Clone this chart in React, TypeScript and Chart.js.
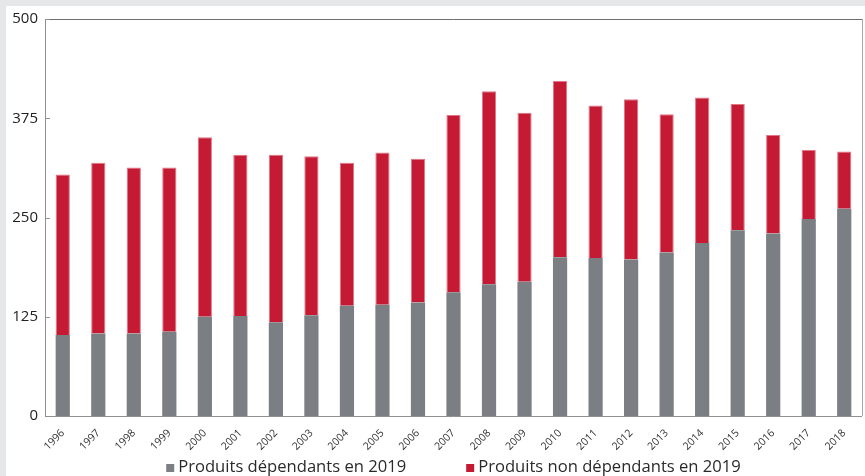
import React, { useEffect, useRef } from "react";
import { Chart, registerables } from "chart.js";

Chart.register(...registerables);

const years = [
  "1996", "1997", "1998", "1999", "2000", "2001", "2002", "2003", "2004", "2005", "2006", "2007",
  "2008", "2009", "2010", "2011", "2012", "2013", "2014", "2015", "2016", "2017", "2018",
];
const dependants = [102, 104, 104, 106, 125, 126, 118, 127, 139, 140, 143, 156, 166, 169, 200, 199, 197, 206, 218, 234, 230, 248, 261];
const nonDependants = [202, 215, 209, 207, 226, 203, 211, 200, 180, 192, 181, 223, 243, 213, 222, 192, 202, 174, 183, 159, 124, 87, 72];
const yTicks = [0, 125, 250, 375, 500];
const seriesLabels = ["Produits dépendants en 2019", "Produits non dépendants en 2019"];

const GRAY = "#7b7e82";
const RED = "#c41a33";
const FONT = "'Open Sans', 'Noto Sans', sans-serif";

const framePlugin = {
  id: "frame",
  beforeDraw(chart: any) {
    const { ctx, width, height } = chart;
    ctx.save();
    ctx.fillStyle = "#e6e7e9";
    ctx.fillRect(0, 0, width, height);
    ctx.fillStyle = "#ffffff";
    ctx.fillRect(6, 6, width - 6, height - 6);
    ctx.restore();
  },
  afterDatasetsDraw(chart: any) {
    const { ctx, chartArea } = chart;
    const { left, right, top, bottom } = chartArea;
    const y = chart.scales.y;
    ctx.save();
    ctx.lineWidth = 1;
    ctx.strokeStyle = "#6c6e71";
    ctx.beginPath();
    ctx.moveTo(left, Math.round(top) + 0.5);
    ctx.lineTo(right, Math.round(top) + 0.5);
    ctx.stroke();
    ctx.strokeStyle = "#8e9094";
    ctx.beginPath();
    ctx.moveTo(Math.round(left) + 0.5, top);
    ctx.lineTo(Math.round(left) + 0.5, Math.round(bottom) + 0.5);
    ctx.lineTo(right, Math.round(bottom) + 0.5);
    ctx.stroke();
    ctx.strokeStyle = "#a4a6a9";
    ctx.beginPath();
    ctx.moveTo(Math.round(right) + 0.5, top);
    ctx.lineTo(Math.round(right) + 0.5, bottom);
    ctx.stroke();
    ctx.strokeStyle = "#8e9094";
    yTicks.forEach((v) => {
      const py = Math.round(y.getPixelForValue(v)) + 0.5;
      ctx.beginPath();
      ctx.moveTo(left, py);
      ctx.lineTo(left + 5, py);
      ctx.stroke();
    });
    ctx.restore();
  },
  afterDraw(chart: any) {
    const { ctx, chartArea } = chart;
    const ds = chart.data.datasets;
    ctx.save();
    ctx.font = `16.6px ${FONT}`;
    ctx.textBaseline = "middle";
    const box = 8;
    const gap = 4;
    const spacing = 60;
    const widths = ds.map((d: any) => ctx.measureText(d.label).width);
    const total = widths.reduce((a: number, w: number) => a + box + gap + w, 0) + spacing * (ds.length - 1);
    let x = (chartArea.left + chartArea.right) / 2 - total / 2;
    const cy = 467;
    ds.forEach((d: any, i: number) => {
      ctx.fillStyle = d.backgroundColor;
      ctx.fillRect(x, cy - box / 2 + 1, box, box);
      x += box + gap;
      ctx.fillStyle = "#2a2a2a";
      ctx.fillText(d.label, x, cy);
      x += widths[i] + spacing;
    });
    ctx.restore();
  },
};

export default function App() {
  const canvasRef = useRef<HTMLCanvasElement | null>(null);

  useEffect(() => {
    const canvas = canvasRef.current;
    if (!canvas) return;
    const chart = new Chart(canvas, {
      type: "bar",
      data: {
        labels: years,
        datasets: [
          {
            label: seriesLabels[0],
            data: dependants,
            backgroundColor: GRAY,
            borderWidth: 0,
            barPercentage: 0.4,
            categoryPercentage: 1,
          },
          {
            label: seriesLabels[1],
            data: nonDependants,
            backgroundColor: RED,
            borderColor: "#e07584",
            borderWidth: { top: 1, left: 1, right: 1, bottom: 0 },
            borderSkipped: "bottom",
            barPercentage: 0.4,
            categoryPercentage: 1,
          },
        ],
      },
      options: {
        responsive: false,
        animation: false,
        devicePixelRatio: 1,
        layout: { padding: { left: 0, top: 19, right: 3, bottom: 0 } },
        plugins: {
          legend: { display: false },
          tooltip: { enabled: false },
        },
        scales: {
          x: {
            stacked: true,
            grid: { display: false },
            border: { display: false },
            ticks: {
              minRotation: 45,
              maxRotation: 45,
              padding: 3,
              color: "#333333",
              font: { family: FONT, size: 10.5 },
            },
            afterFit(scale: any) {
              scale.height = 60;
            },
          },
          y: {
            stacked: true,
            min: 0,
            max: 500,
            grid: { display: false, drawTicks: false },
            border: { display: false },
            afterBuildTicks(scale: any) {
              scale.ticks = yTicks.map((v) => ({ value: v }));
            },
            ticks: {
              padding: 7,
              color: "#222222",
              font: { family: FONT, size: 15 },
            },
            afterFit(scale: any) {
              scale.width = 45;
            },
          },
        },
      },
      plugins: [framePlugin],
    });
    return () => chart.destroy();
  }, []);

  return (
    <div style={{ position: "absolute", left: 0, top: 0, width: 865, height: 476 }}>
      <canvas ref={canvasRef} width={865} height={476} style={{ display: "block" }} />
    </div>
  );
}
